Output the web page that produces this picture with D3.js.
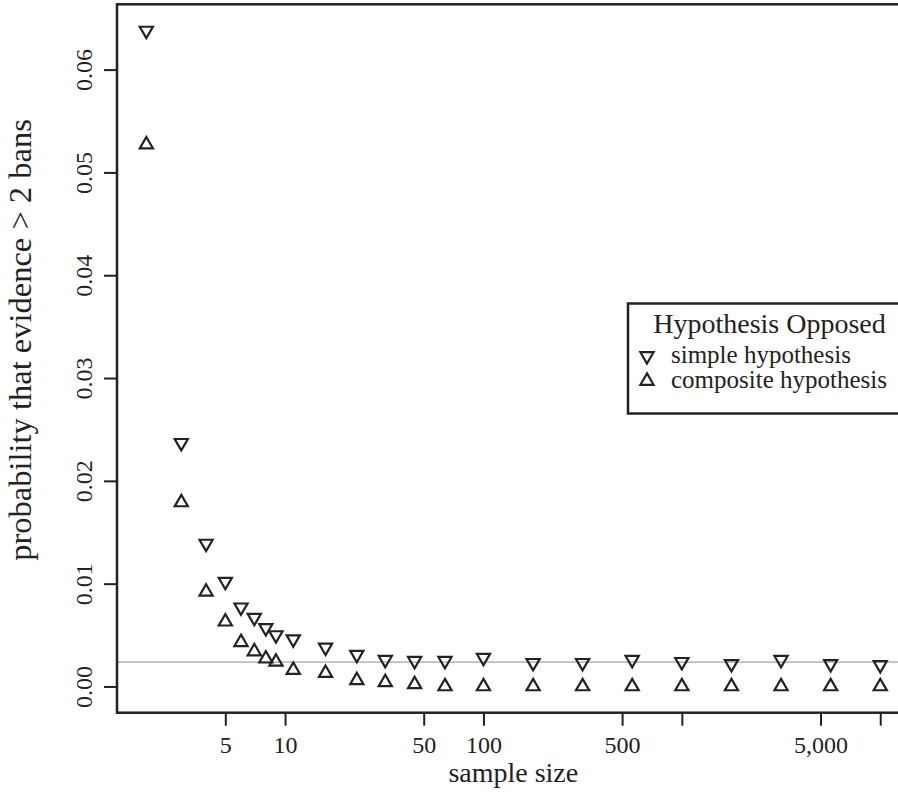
<!DOCTYPE html>
<html>
<head>
<meta charset="utf-8">
<script src="https://cdn.jsdelivr.net/npm/d3@7"></script>
<style>
  html, body { margin: 0; padding: 0; background: #fff; }
  svg text { font-family: "Liberation Serif", "Times New Roman", serif; fill: #222; }
</style>
</head>
<body>
<svg id="chart" width="898" height="793"></svg>
<script>
// ---- data ----
const sampleSizes = [2, 3, 4, 5, 6, 7, 8, 9, 11, 16, 23, 32, 45, 64, 100, 178, 316, 562, 1000, 1778, 3162, 5623, 10000];
const simpleHyp = [0.0638, 0.0237, 0.0139, 0.0102, 0.0077, 0.0067, 0.0057, 0.0050, 0.0046, 0.0038, 0.0031, 0.0026, 0.0025, 0.0025, 0.0028, 0.0023, 0.0023, 0.0026, 0.0024, 0.0022, 0.0026, 0.0022, 0.0021];
const compositeHyp = [0.0527, 0.0179, 0.0092, 0.0063, 0.0043, 0.0034, 0.0027, 0.0024, 0.0016, 0.0013, 0.0006, 0.0004, 0.0002, 0.0000, 0.0000, 0.0000, 0.0000, 0.0000, 0.0000, 0.0000, 0.0000, 0.0000, 0.0000];
const referenceLine = 0.00237;
const xTickValues = [5, 10, 50, 100, 500, 1000, 5000, 10000];
const xTickLabels = ["5", "10", "50", "100", "500", "", "5,000", ""];
const yTickValues = [0, 0.01, 0.02, 0.03, 0.04, 0.05, 0.06];
const yTickLabels = ["0.00", "0.01", "0.02", "0.03", "0.04", "0.05", "0.06"];
const legendTitle = "Hypothesis Opposed";
const legendLabels = ["simple hypothesis", "composite hypothesis"];

// ---- layout ----
const svg = d3.select("#chart");
const pLeft = 117, pRight = 909.6, pTop = 4.3, pBottom = 712.7;
const ink = "#222";

const lx0 = Math.log10(d3.min(sampleSizes)), lx1 = Math.log10(d3.max(sampleSizes));
const padX = 0.04 * (lx1 - lx0);
const x = d3.scaleLog().domain([Math.pow(10, lx0 - padX), Math.pow(10, lx1 + padX)]).range([pLeft, pRight]);

const allY = simpleHyp.concat(compositeHyp);
const yMin = d3.min(allY), yMax = d3.max(allY);
const padY = 0.04 * (yMax - yMin);
const y = d3.scaleLinear().domain([yMin - padY, yMax + padY]).range([pBottom, pTop]);

// reference line
svg.append("line")
  .attr("x1", pLeft).attr("x2", 898)
  .attr("y1", y(referenceLine)).attr("y2", y(referenceLine))
  .attr("stroke", "#bdbdbd").attr("stroke-width", 1.6);

// axes
const xAxis = d3.axisBottom(x).tickValues(xTickValues)
  .tickFormat((d, i) => xTickLabels[i]).tickSize(13).tickPadding(6);
const gx = svg.append("g").attr("transform", `translate(0,${pBottom})`).call(xAxis);
gx.select(".domain").remove();
gx.selectAll(".tick line").attr("stroke", ink).attr("stroke-width", 2);
gx.selectAll(".tick text").attr("font-size", 24).attr("fill", ink)
  .attr("font-family", "Liberation Serif, serif").attr("dy", "0.9em");

const yAxis = d3.axisLeft(y).tickValues(yTickValues)
  .tickFormat((d, i) => yTickLabels[i]).tickSize(13);
const gy = svg.append("g").attr("transform", `translate(${pLeft},0)`).call(yAxis);
gy.select(".domain").remove();
gy.selectAll(".tick line").attr("stroke", ink).attr("stroke-width", 2);
gy.selectAll(".tick text")
  .attr("font-size", 24).attr("fill", ink)
  .attr("font-family", "Liberation Serif, serif")
  .attr("x", null).attr("dy", null)
  .attr("text-anchor", "middle")
  .attr("transform", "translate(-25,0) rotate(-90)");

// frame
svg.append("rect")
  .attr("x", pLeft).attr("y", pTop)
  .attr("width", pRight - pLeft).attr("height", pBottom - pTop)
  .attr("fill", "none").attr("stroke", ink).attr("stroke-width", 2.5);

// markers
const tri = d3.symbol().type(d3.symbolTriangle).size(75);
svg.append("g").selectAll("path.simple")
  .data(sampleSizes.map((n, i) => [n, simpleHyp[i]]))
  .join("path")
  .attr("class", "simple")
  .attr("d", tri)
  .attr("transform", d => `translate(${x(d[0])},${y(d[1])}) rotate(180)`)
  .attr("fill", "none").attr("stroke", ink).attr("stroke-width", 2.2);

svg.append("g").selectAll("path.composite")
  .data(sampleSizes.map((n, i) => [n, compositeHyp[i]]))
  .join("path")
  .attr("class", "composite")
  .attr("d", tri)
  .attr("transform", d => `translate(${x(d[0])},${y(d[1])})`)
  .attr("fill", "none").attr("stroke", ink).attr("stroke-width", 2.2);

// axis titles
svg.append("text")
  .attr("x", (pLeft + pRight) / 2).attr("y", 782)
  .attr("text-anchor", "middle").attr("font-size", 28)
  .text("sample size");

svg.append("text")
  .attr("transform", `translate(31,340) rotate(-90)`)
  .attr("text-anchor", "middle").attr("font-size", 32.5)
  .text("probability that evidence > 2 bans");

// legend
const lg = svg.append("g");
lg.append("rect")
  .attr("x", 628).attr("y", 303.5)
  .attr("width", 285).attr("height", 110)
  .attr("fill", "#fff").attr("stroke", ink).attr("stroke-width", 2.5);
lg.append("text")
  .attr("x", 628 + 285 / 2 - 1).attr("y", 333)
  .attr("text-anchor", "middle").attr("font-size", 28)
  .text(legendTitle);
const legendRows = [356, 381];
lg.append("path").attr("d", tri)
  .attr("transform", `translate(647,${legendRows[0]}) rotate(180)`)
  .attr("fill", "none").attr("stroke", ink).attr("stroke-width", 2.2);
lg.append("path").attr("d", tri)
  .attr("transform", `translate(647,${legendRows[1]})`)
  .attr("fill", "none").attr("stroke", ink).attr("stroke-width", 2.2);
legendLabels.forEach((t, i) => {
  lg.append("text")
    .attr("x", 671).attr("y", legendRows[i] + 7)
    .attr("font-size", 25)
    .text(t);
});
</script>
</body>
</html>
